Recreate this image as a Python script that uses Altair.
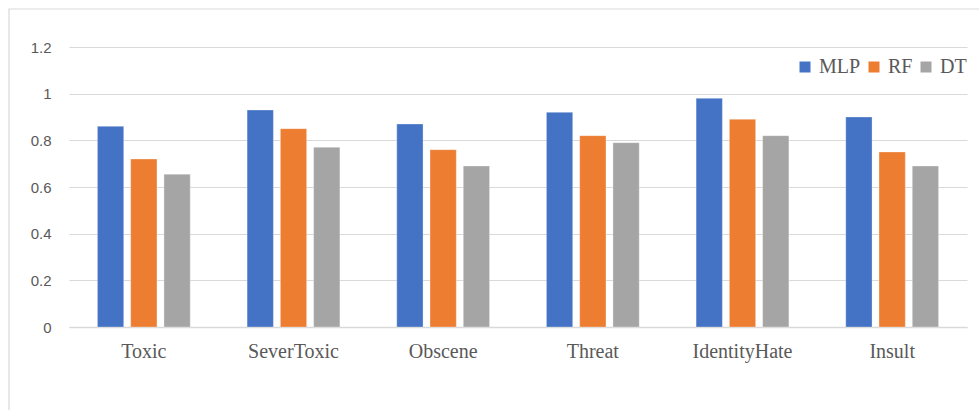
import altair as alt
import pandas as pd

# Classifier scores per toxicity category
categories = ["Toxic", "SeverToxic", "Obscene", "Threat", "IdentityHate", "Insult"]
models = ["MLP", "RF", "DT"]
mlp = [0.86, 0.93, 0.87, 0.92, 0.98, 0.90]
rf = [0.72, 0.85, 0.76, 0.82, 0.89, 0.75]
dt = [0.655, 0.77, 0.69, 0.79, 0.82, 0.69]
colors = ["#4472C4", "#ED7D31", "#A5A5A5"]

rows = []
for model, vals in zip(models, [mlp, rf, dt]):
    for cat, v in zip(categories, vals):
        rows.append({"category": cat, "model": model, "score": v})
df = pd.DataFrame(rows)

W, H = 898, 280

bars = alt.Chart(df).mark_bar(stroke="white", strokeWidth=0.5, strokeOpacity=0.6).encode(
    x=alt.X(
        "category:N",
        sort=categories,
        title=None,
        scale=alt.Scale(paddingInner=0.38, paddingOuter=0.19),
        axis=alt.Axis(
            labelAngle=0,
            labelFont="Liberation Serif",
            labelFontSize=20,
            labelColor="#595959",
            labelPadding=14,
            ticks=False,
            domainColor="#D9D9D9",
            domainWidth=1.5,
            grid=False,
        ),
    ),
    xOffset=alt.XOffset(
        "model:N",
        sort=models,
        scale=alt.Scale(paddingInner=0.21, paddingOuter=0),
    ),
    y=alt.Y(
        "score:Q",
        title=None,
        scale=alt.Scale(domain=[0, 1.2], nice=False),
        axis=alt.Axis(
            values=[0, 0.2, 0.4, 0.6, 0.8, 1.0, 1.2],
            format="~g",
            labelFont="Liberation Sans",
            labelFontSize=15,
            labelColor="#595959",
            labelPadding=18,
            ticks=False,
            domain=False,
            gridColor="#D9D9D9",
            gridWidth=1.2,
        ),
    ),
    color=alt.Color(
        "model:N",
        sort=models,
        scale=alt.Scale(domain=models, range=colors),
        legend=alt.Legend(
            title=None,
            orient="none",
            direction="horizontal",
            legendX=726,
            legendY=10,
            gridAlign="none",
            symbolType="square",
            symbolSize=121,
            symbolStrokeWidth=0,
            labelFont="Liberation Serif",
            labelFontSize=20,
            labelColor="#595959",
            labelOffset=4,
            columnPadding=3,
        ),
    ),
)

# Outer frame around the whole chart
frame = alt.Chart(alt.Data(values=[{}])).mark_rect(
    fillOpacity=0, stroke="#D9D9D9", strokeWidth=1.2
).encode(
    x=alt.value(-60), x2=alt.value(1000), y=alt.value(-38), y2=alt.value(500)
)

chart = alt.layer(frame, bars).properties(
    width=W,
    height=H,
    padding={"left": 69, "top": 47, "right": 12, "bottom": 83},
    autosize=alt.AutoSizeParams(type="none"),
    background="white",
).configure_view(stroke=None)

chart.save("out.html", embed_options={"renderer": "svg", "actions": False})
